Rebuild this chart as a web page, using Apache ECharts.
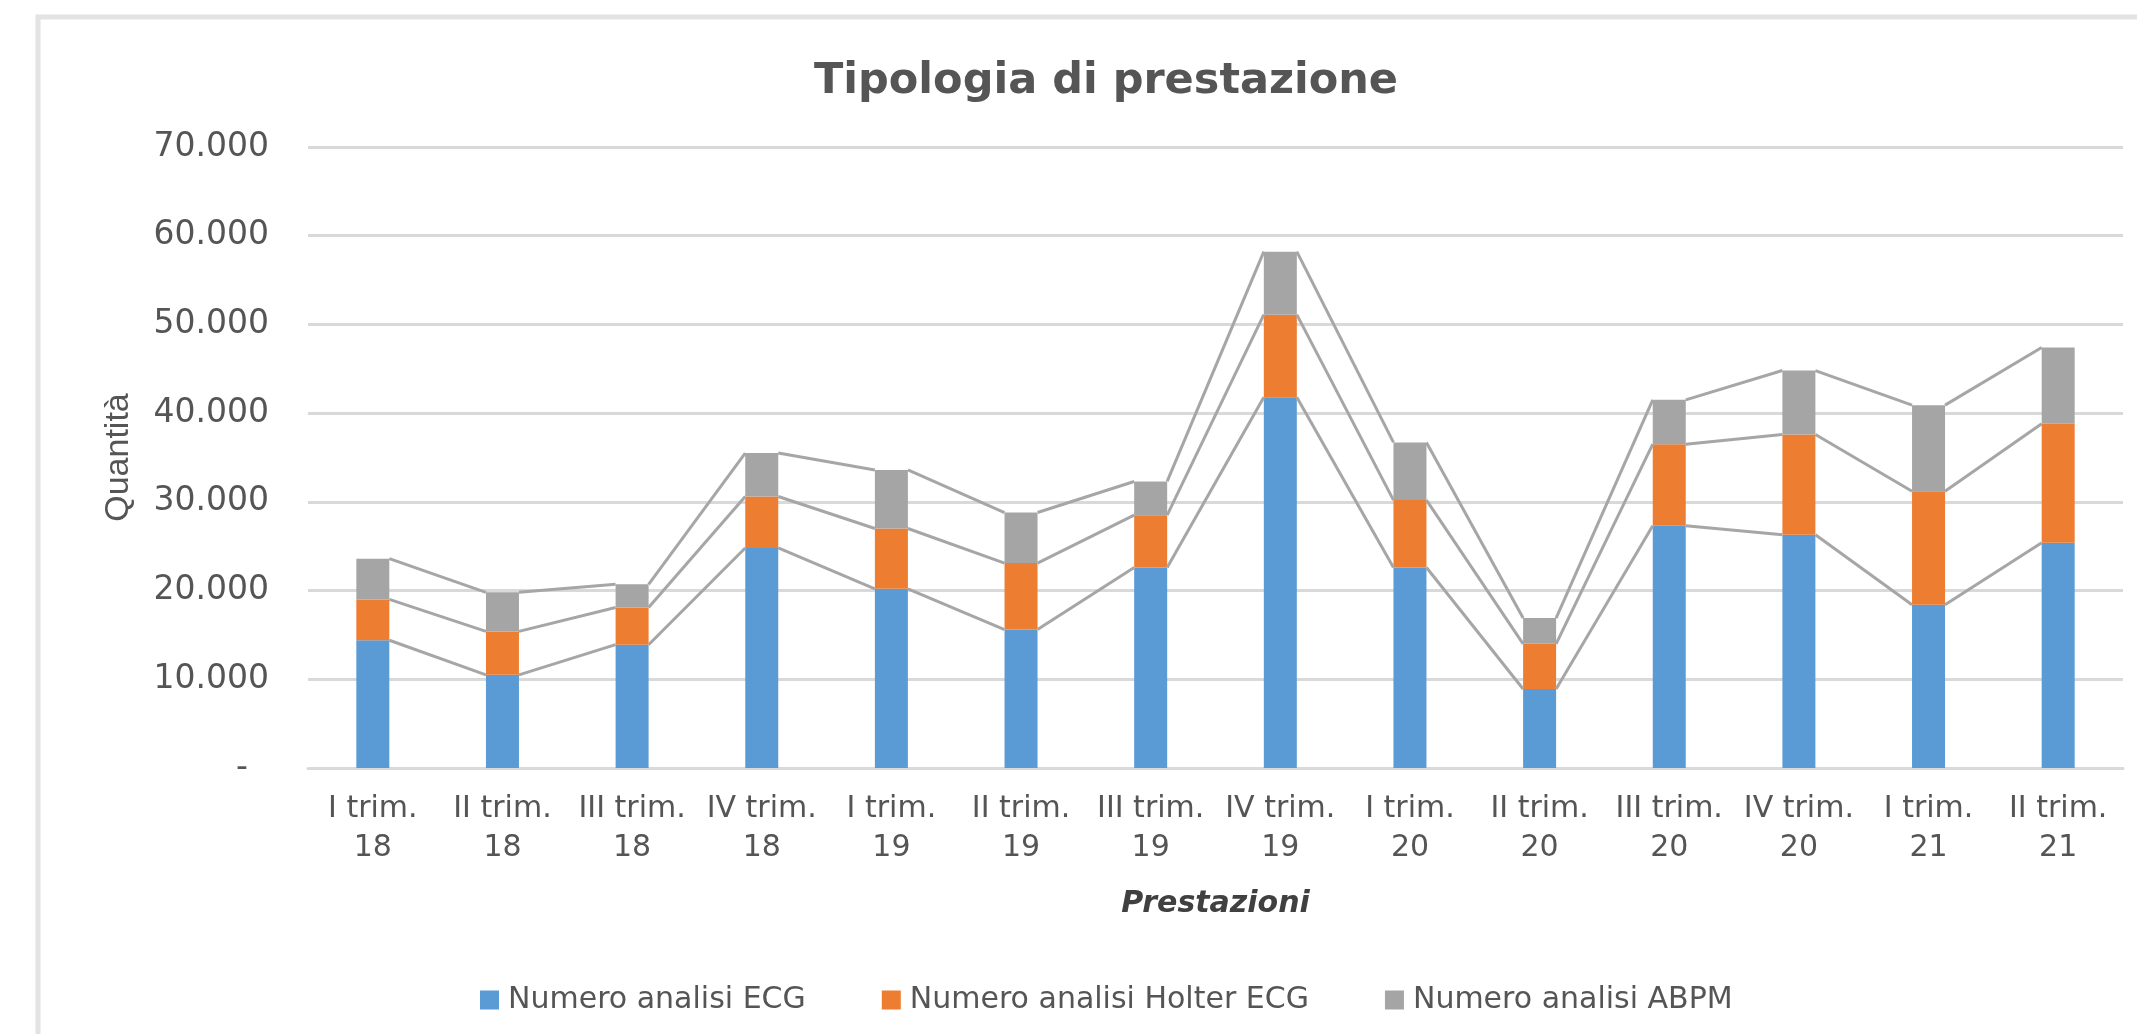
<!DOCTYPE html>
<html>
<head>
<meta charset="utf-8">
<script src="https://cdn.jsdelivr.net/npm/echarts@6/dist/echarts.min.js"></script>
<style>
  html, body { margin: 0; padding: 0; background: #ffffff; }
  #chart { width: 2137px; height: 1034px; }
</style>
</head>
<body>
<div id="chart"></div>
<script>
// ---- data ----
const categories = ['I trim.\n18', 'II trim.\n18', 'III trim.\n18', 'IV trim.\n18',
                    'I trim.\n19', 'II trim.\n19', 'III trim.\n19', 'IV trim.\n19',
                    'I trim.\n20', 'II trim.\n20', 'III trim.\n20', 'IV trim.\n20',
                    'I trim.\n21', 'II trim.\n21'];
const seriesNames = ['Numero analisi ECG', 'Numero analisi Holter ECG', 'Numero analisi ABPM'];
const ecg    = [14400, 10500, 13900, 24800, 20200, 15600, 22600, 41800, 22600, 8900, 27300, 26300, 18400, 25400];
const holter = [4600, 4900, 4200, 5800, 6800, 7500, 5900, 9300, 7600, 5100, 9200, 11300, 12800, 13400];
const abpm   = [4600, 4400, 2600, 4900, 6600, 5700, 3800, 7100, 6500, 2900, 5000, 7200, 9700, 8600];
const yTickValues = [0, 10000, 20000, 30000, 40000, 50000, 60000, 70000];
const yTickLabels = ['-  ', '10.000', '20.000', '30.000', '40.000', '50.000', '60.000', '70.000'];

// ---- derived ----
const colors = ['#5B9BD5', '#ED7D31', '#A5A5A5'];
const BAR_W = 33;
const level1 = ecg.map((v, i) => v);
const level2 = ecg.map((v, i) => v + holter[i]);
const level3 = ecg.map((v, i) => v + holter[i] + abpm[i]);
const connectorData = [];
[level1, level2, level3].forEach(lv => {
  for (let i = 0; i < lv.length - 1; i++) connectorData.push([i, lv[i], lv[i + 1]]);
});

const chart = echarts.init(document.getElementById('chart'), null, { renderer: 'canvas' });
const axisFont = 'DejaVu Sans';
chart.setOption({
  animation: false,
  backgroundColor: '#ffffff',
  color: colors,
  graphic: [{
    type: 'rect',
    shape: { x: 38, y: 17, width: 2300, height: 1200 },
    style: { fill: 'none', stroke: '#e3e3e3', lineWidth: 5 },
    silent: true, z: -10
  }],
  title: {
    text: 'Tipologia di prestazione',
    left: 1101,
    textAlign: 'center',
    top: 55,
    textStyle: { fontFamily: axisFont, fontSize: 43, fontWeight: 'bold', color: '#555555' }
  },
  legend: {
    data: seriesNames,
    left: 475,
    top: 980,
    itemWidth: 19,
    itemHeight: 19,
    itemGap: 76,
    icon: 'rect',
    textStyle: { fontFamily: axisFont, fontSize: 30, color: '#555555', padding: [0, 0, 0, 4] }
  },
  grid: { left: 308, right: 14, top: 147, bottom: 266, containLabel: false },
  xAxis: {
    type: 'category',
    data: categories,
    name: 'Prestazioni',
    nameLocation: 'middle',
    nameGap: 121,
    nameTextStyle: { fontFamily: axisFont, fontSize: 30, fontWeight: 'bold', fontStyle: 'italic', color: '#404040' },
    axisLine: { lineStyle: { color: '#d9d9d9', width: 3 } },
    axisTick: { show: false },
    axisLabel: { fontFamily: axisFont, fontSize: 30, color: '#555555', lineHeight: 39, margin: 22, interval: 0 }
  },
  yAxis: {
    type: 'value',
    min: 0,
    max: 70000,
    interval: 10000,
    name: 'Quantità',
    nameLocation: 'middle',
    nameGap: 172,
    nameTextStyle: { fontFamily: 'Liberation Sans', fontSize: 34, color: '#555555' },
    axisLine: { show: false },
    axisTick: { show: false },
    splitLine: { lineStyle: { color: '#d9d9d9', width: 3 } },
    axisLabel: {
      fontFamily: axisFont, fontSize: 33, color: '#555555', margin: 39,
      formatter: v => { const k = yTickValues.indexOf(v); return k >= 0 ? yTickLabels[k] : ''; }
    }
  },
  series: [
    { name: seriesNames[0], type: 'bar', stack: 'tot', barWidth: BAR_W, data: ecg, itemStyle: { color: colors[0] } },
    { name: seriesNames[1], type: 'bar', stack: 'tot', barWidth: BAR_W, data: holter, itemStyle: { color: colors[1] } },
    { name: seriesNames[2], type: 'bar', stack: 'tot', barWidth: BAR_W, data: abpm, itemStyle: { color: colors[2] } },
    {
      name: 'seriesLines',
      type: 'custom',
      silent: true,
      z: 3,
      data: connectorData,
      encode: { x: 0, y: [1, 2] },
      renderItem: function (params, api) {
        const i = api.value(0);
        const p1 = api.coord([i, api.value(1)]);
        const p2 = api.coord([i + 1, api.value(2)]);
        return {
          type: 'line',
          shape: { x1: p1[0] + BAR_W / 2, y1: p1[1], x2: p2[0] - BAR_W / 2, y2: p2[1] },
          style: { stroke: '#a6a6a6', lineWidth: 3 }
        };
      }
    }
  ]
});
</script>
</body>
</html>
